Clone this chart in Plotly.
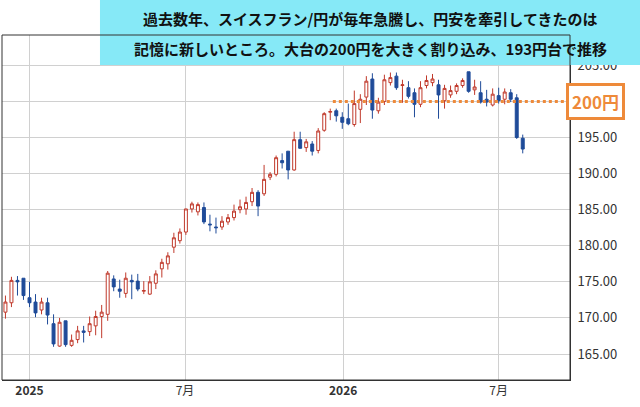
import pandas as pd
import plotly.graph_objects as go

# weekly CHF/JPY candles
opens = [170.8, 172.1, 175.2, 175.5, 172.8, 172.2, 171.1, 172.1, 169.2, 166.1,
         169.6, 166.2, 167.0, 168.2, 168.1, 168.9, 170.2, 170.5, 175.4, 174.0,
         173.4, 175.2, 175.1, 173.7, 173.3, 174.8, 176.8, 177.5, 179.8, 180.7,
         181.9, 185.1, 184.7, 185.3, 183.0, 182.6, 182.6, 183.3, 183.9, 185.0,
         185.1, 186.1, 187.4, 187.2, 189.5, 189.9, 191.8, 193.1, 190.5, 194.7,
         193.6, 194.1, 193.2, 196.0, 198.5, 198.7, 197.8, 197.6, 196.8, 198.9,
         200.6, 203.1, 198.7, 200.0, 202.6, 203.5, 202.2, 201.9, 201.2, 199.6,
         202.2, 202.6, 202.3, 200.1, 200.9, 201.4, 202.2, 204.1, 201.6, 201.2,
         200.3, 199.5, 200.8, 200.3, 201.2, 200.5, 194.9]
highs = [173.1, 175.7, 175.8, 175.5, 175.0, 173.3, 172.8, 172.8, 170.5, 170.0,
         169.6, 167.7, 168.9, 168.9, 170.2, 171.0, 171.8, 176.5, 175.9, 175.3,
         176.3, 176.0, 176.1, 175.1, 175.8, 176.6, 178.2, 179.1, 181.8, 182.4,
         185.1, 186.1, 186.0, 186.0, 184.3, 183.9, 184.1, 184.4, 185.7, 186.4,
         186.8, 188.0, 187.7, 191.2, 190.2, 192.5, 192.8, 193.1, 195.8, 195.8,
         194.8, 194.5, 196.3, 198.5, 199.0, 199.0, 198.5, 199.7, 201.5, 201.0,
         203.5, 203.9, 200.5, 203.7, 204.0, 204.0, 203.0, 202.8, 201.8, 202.8,
         203.6, 203.8, 203.0, 202.3, 202.2, 202.5, 203.2, 204.1, 203.0, 202.8,
         201.6, 201.8, 201.9, 201.8, 201.7, 201.0, 195.4]
lows = [169.9, 171.5, 173.1, 172.5, 171.5, 170.1, 170.5, 169.1, 166.0, 166.0,
        166.0, 166.0, 166.5, 166.6, 167.5, 167.6, 167.2, 169.6, 173.7, 172.8,
        172.8, 172.6, 173.7, 173.3, 173.2, 174.0, 175.6, 176.7, 179.0, 180.3,
        181.5, 184.6, 184.2, 183.0, 182.0, 181.7, 182.2, 182.9, 183.5, 184.5,
        184.3, 185.5, 184.1, 186.9, 189.1, 189.6, 190.7, 189.2, 190.4, 193.5,
        193.0, 192.5, 192.8, 195.8, 197.4, 197.2, 196.2, 196.7, 196.5, 197.0,
        199.5, 197.6, 198.3, 199.5, 202.2, 201.6, 199.8, 200.4, 197.8, 199.2,
        201.8, 202.1, 197.6, 199.0, 200.5, 201.0, 201.9, 201.2, 200.9, 199.7,
        199.3, 199.3, 199.7, 199.6, 199.9, 194.8, 192.8]
closes = [172.2, 175.2, 175.0, 173.1, 172.1, 170.7, 172.2, 170.4, 166.4, 169.4,
          166.3, 166.9, 168.2, 168.0, 169.2, 170.2, 170.8, 176.2, 174.3, 173.7,
          175.5, 175.0, 174.0, 173.8, 175.0, 176.1, 177.7, 178.6, 181.1, 181.9,
          185.1, 185.8, 185.7, 183.3, 182.9, 182.5, 183.4, 183.9, 184.8, 185.4,
          186.0, 187.4, 185.5, 189.2, 189.9, 192.2, 191.5, 190.5, 194.7, 193.5,
          194.4, 193.1, 195.9, 198.3, 198.6, 198.0, 197.1, 196.9, 199.7, 200.3,
          202.8, 198.8, 199.9, 203.0, 203.3, 201.9, 202.3, 200.7, 199.6, 201.9,
          202.9, 203.1, 200.9, 201.8, 201.5, 202.2, 202.9, 201.4, 202.0, 199.9,
          199.9, 201.0, 200.1, 201.3, 200.3, 195.0, 193.4]
dates = pd.date_range("2024-12-04", periods=len(opens), freq="7D")

tick_dates = ["2025-01-01", "2025-07-01", "2026-01-01", "2026-07-01"]
tick_text = ["<b>2025</b>", "7月", "<b>2026</b>", "7月"]
price_ticks = [165, 170, 175, 180, 185, 190, 195, 200, 205]

red = "#c0392b"
blue = "#1f4b99"
orange = "#ee8a3a"
jp = "Noto Sans CJK JP"

fig = go.Figure(go.Candlestick(
    x=dates, open=opens, high=highs, low=lows, close=closes,
    increasing=dict(line=dict(color=red, width=1), fillcolor="white"),
    decreasing=dict(line=dict(color=blue, width=1), fillcolor=blue),
    whiskerwidth=0, showlegend=False,
))

# 200 yen marker
fig.add_shape(type="line", xref="x", yref="y", x0="2025-12-20", x1="2026-09-20",
              y0=200, y1=200, line=dict(color=orange, width=3, dash="dot"))
fig.add_annotation(xref="paper", yref="y", x=1.0, y=200, xanchor="left", xshift=-4,
                   text="<b>200円</b>", showarrow=False,
                   font=dict(size=17, color=orange, family=jp),
                   bgcolor="white", bordercolor=orange, borderwidth=3, borderpad=3)

# title box
fig.add_shape(type="rect", xref="paper", yref="paper", x0=0.1725, x1=1.13, y0=0.913, y1=1.13,
              fillcolor="#86e9f7", line=dict(width=0), layer="above")
fig.add_annotation(xref="paper", yref="paper", x=0.648, y=1.085,
                   text="<b>過去数年、スイスフラン/円が毎年急騰し、円安を牽引してきたのは</b>",
                   showarrow=False, font=dict(size=15, color="#111", family=jp))
fig.add_annotation(xref="paper", yref="paper", x=0.648, y=0.998,
                   text="<b>記憶に新しいところ。大台の200円を大きく割り込み、193円台で推移</b>",
                   showarrow=False, font=dict(size=15, color="#111", family=jp))

fig.update_layout(
    width=640, height=407, margin=dict(l=2, r=70, t=35, b=27, autoexpand=False),
    paper_bgcolor="white", plot_bgcolor="white",
    font=dict(family=jp, size=13, color="#333"),
    xaxis=dict(range=["2024-11-30", "2026-09-22"], rangeslider=dict(visible=False),
               tickvals=tick_dates, ticktext=tick_text, showgrid=True,
               gridcolor="#d0d0d0", showline=True, linecolor="#333",
               ticks="", ticklabelstandoff=0, tickfont=dict(size=12)),
    yaxis=dict(side="right", range=[161.4, 209.2], tickvals=price_ticks,
               tickformat=".2f", showgrid=True, gridcolor="#d0d0d0",
               showline=True, linecolor="#333", ticks="", ticklabelstandoff=4),
)
fig.add_shape(type="rect", xref="paper", yref="paper", x0=0, x1=1, y0=0, y1=1,
              line=dict(color="#333", width=1))

fig.write_html("out.html", config={"displayModeBar": False},
               post_script="document.body.style.margin='0';")
